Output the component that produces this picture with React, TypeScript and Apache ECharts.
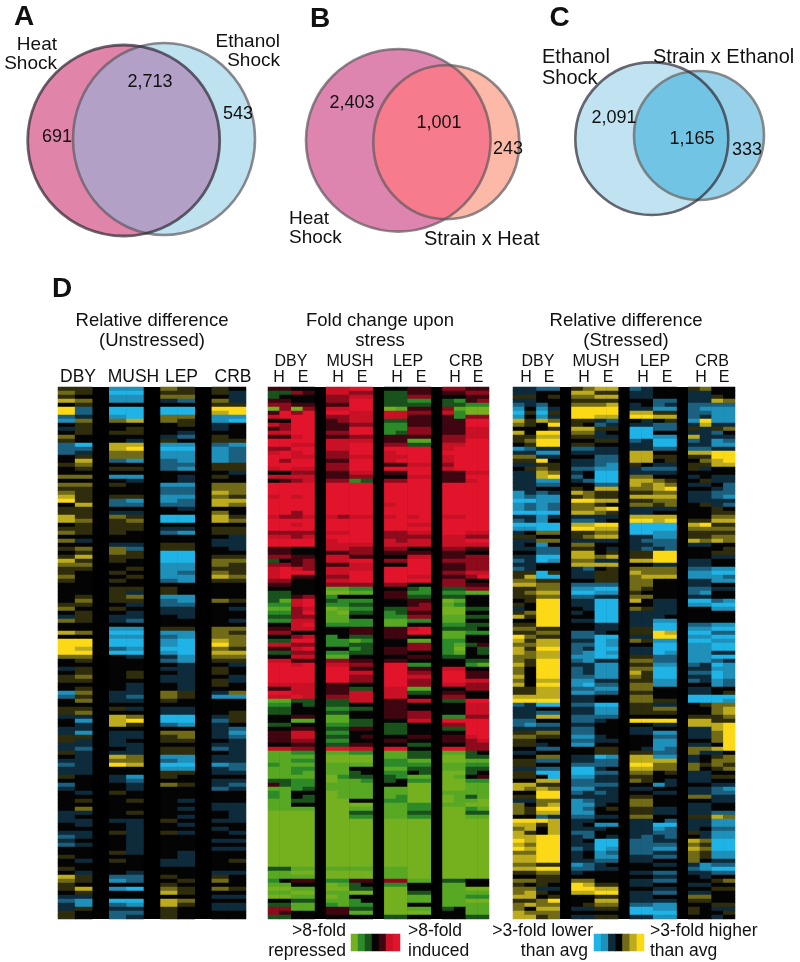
import React, { useEffect, useRef } from "react";
import * as echarts from "echarts";

const FONT = "'Liberation Sans', Arial, sans-serif";

// Heatmap rows, one digit per cell: 0 = strongest low, 4 = black, 8 = strongest high
const unstressedColumns = ["DBY H", "DBY E", "gap1", "MUSH H", "MUSH E", "gap2", "LEP H", "LEP E", "gap3", "CRB H", "CRB E"];
const unstressedRows = [
"55 11 65 54","65 00 55 53","54 11 66 43","76 11 32 63","45 44 44 55","82 00 00 88","82 00 00 78","23 10 66 11","16 67 65 10","45 44 45 34",
"35 45 44 34","45 55 43 44","64 44 32 54","54 43 54 55","20 77 11 21","22 78 00 12","23 66 11 12","45 66 11 12","47 21 21 12","56 44 22 55",
"45 55 21 55","44 44 44 43","66 11 43 54","44 43 43 44","66 54 11 66","55 44 22 66","65 44 22 76","75 55 11 65","85 21 12 77","47 22 22 76",
"55 44 43 44","55 33 44 64","75 65 00 75","76 56 00 76","45 55 44 44","55 55 33 55","65 54 21 55","44 44 44 43","63 44 44 33","44 33 55 33",
"56 62 55 43","45 65 00 44","57 55 00 55","75 54 00 66","66 44 11 65","55 45 11 55","54 54 12 65","64 45 11 76","54 54 21 55","44 44 44 44",
"44 55 54 44","44 53 54 44","45 56 11 44","46 55 21 65","55 43 22 44","64 54 33 43","45 43 33 44","35 33 43 44","65 32 44 43","44 44 44 44",
"44 11 55 66","76 00 11 65","44 11 21 66","88 00 10 76","88 00 10 86","87 21 00 65","88 00 10 77","66 43 31 66","45 44 21 55","44 44 43 43",
"35 44 33 54","45 45 43 54","56 45 33 43","55 44 33 53","44 43 43 54","45 43 43 44","16 33 65 36","25 32 65 11","46 33 54 44","44 44 44 44",
"55 53 33 44","56 44 33 45","33 76 00 35","41 78 00 25","43 75 21 34","33 44 44 32","31 33 66 31","55 33 56 32","53 34 55 43","33 33 44 33",
"32 43 55 23","53 33 55 43","43 76 11 33","33 66 21 33","23 87 00 12","33 44 11 32","33 44 55 33","54 31 54 44","44 32 44 33","24 43 65 32",
"34 43 44 23","43 54 44 44","44 44 44 44","45 45 43 44","44 44 44 33","46 44 43 33","33 45 44 43","34 44 43 43","33 33 54 33","43 43 43 44",
"44 43 44 34","33 53 53 43","23 43 44 44","34 43 44 33","23 43 44 44","44 43 44 33","44 53 43 44","54 44 43 44","43 54 33 45","44 44 33 44",
"54 44 44 44","43 43 44 33","75 22 54 54","65 12 45 64","54 44 54 44","57 10 65 65","45 44 75 44","33 44 44 33","21 00 76 44","31 21 75 33",
"35 33 54 33","54 22 54 44","54 23 54 44",
];

const sixteenColumns = ["D1", "D2", "D3", "D4", "gap1", "M1", "M2", "M3", "M4", "gap2", "L1", "L2", "L3", "L4", "gap3", "C1", "C2", "C3", "C4"];
const foldChangeRows = [
"5544 7788 4455 6655","3365 7766 3355 5566","3444 6677 3366 4455","5544 6688 3322 3256","6655 5588 3333 3322","0606 7788 0155 6100","5868 8877 7766 7200","7888 6677 7755 5266","4488 5677 3355 5588","7688 5566 2255 5588",
"5688 5588 2266 5577","7788 6688 2366 5577","5578 5566 5555 6677","8888 7777 5511 6688","8877 7788 6633 7788","6688 7788 8888 7888","7878 6688 7888 8888","8877 6677 7788 7888","8688 5588 7888 7888","8888 6688 5577 6888",
"7877 6688 8888 7888","4466 5577 5588 5577","7777 5566 4477 5588","4567 6623 6688 5578","8888 8888 8888 8888","8888 8888 8888 8888","8888 8888 8888 8888","7878 8888 8888 8888","8888 8888 8888 8888","8888 8888 7888 8888",
"8888 8888 8888 8888","8868 8888 8888 8888","7667 7677 7878 7788","8888 8888 8888 8888","8878 8888 8877 8888","8888 8888 8888 8888","6666 7788 6677 8877","7767 8888 6666 7766","8888 7888 7677 7788","8888 7777 7777 7777",
"5544 7766 6644 6655","5544 5566 5555 5544","6655 7755 4477 5566","3456 7788 6688 6666","6656 5577 4488 5566","7876 7777 8888 5566","7888 7788 8888 6677","7855 6688 8877 5568","6644 7788 8888 6644","5544 6666 6644 6655",
"4444 1122 4432 3366","3344 0011 5522 2211","3356 2444 5533 3344","3178 3222 4455 0144","2278 2233 4456 1244","1167 0122 3366 0033","2268 1033 2355 0044","3366 1144 2266 1133","2277 1122 1122 1144","4478 2222 1144 2233",
"5577 4455 5578 3334","6644 4455 5588 1122","4467 2433 5544 1144","3388 2212 4411 2244","7766 2233 4466 2135","5578 4423 5566 2043","3366 2233 5544 2143","4477 1144 4455 3344","7755 6655 5544 4433","8878 7766 8822 4421",
"8888 8855 8855 7744","8888 8877 8866 8855","8888 8866 8877 8855","8888 8866 8866 8877","7777 5544 8866 7766","5577 5533 7711 4466","8877 5577 7733 5544","7787 6677 7744 6644","1133 3377 5577 3388","2243 3344 5544 4477",
"3344 2233 5544 4477","3344 3344 5566 4477","4455 1144 5566 2266","4411 1133 4477 8888","3344 2233 3344 6688","4455 3355 3344 3388","5577 2244 3344 4488","5577 3345 4455 5578","5566 2244 5544 5567","4455 3355 4433 4466",
"7766 8877 8844 8866","1122 1122 1133 1134","1111 0000 1133 0033","1122 0000 2211 0011","2111 1111 2222 1122","1122 1144 1133 1133","1121 1134 2243 0034","1111 0233 3211 0145","3322 0112 3422 0022","5322 1111 4400 0011",
"1123 1111 1100 0011","2144 0111 1100 1111","2143 0111 1200 0131","1133 0044 2200 0110","1144 0000 1122 1100","1111 0011 1122 0021","0000 0033 1133 0033","0000 0022 1122 0011","0000 0000 0000 0000","0000 0000 0000 0000",
"0000 0000 0000 0000","0000 0000 0000 0000","0000 0000 0000 0000","0000 0000 0000 0000","0000 0000 0000 0000","0000 0000 0000 0000","0000 0000 0000 0000","0000 0000 0000 0000","0000 0000 0000 0000","0000 0000 0000 0000",
"3311 1111 1100 0000","1100 0000 1100 0000","1111 0000 1100 0000","2455 2255 6611 3344","1144 0134 2244 1144","0011 0033 0044 1100","1100 1100 0033 1111","0011 0144 0011 1122","4433 1124 0011 1100","3311 2122 0044 1111",
"6611 5533 0011 3411","6544 5511 0000 4411","3344 4444 3344 4433",
];

const stressedRows = [
"3322 5677 2344 5644","3344 7755 3344 3344","5545 6677 3344 3354","3344 5555 4422 3376","2324 6667 3423 2222","1413 8888 3311 2111","0505 8888 7755 2211","1413 8877 8877 2311","7576 5532 4345 1811","6548 5423 3322 3733",
"4445 7755 0022 5356","7488 6634 0044 3324","5577 5533 0011 7333","5688 4455 2300 2312","4588 5544 3300 3311","1233 2233 3322 2233","3311 3333 7744 7788","6633 4422 7755 5588","5584 3322 7745 4678","3355 3321 5433 5577",
"4565 2211 3222 5344","3376 3400 3333 4444","3378 2400 6644 3433","3311 3200 7765 4533","3322 4422 7676 3342","3344 5477 6678 4432","1323 7655 5566 3322","1211 5655 7777 3321","0011 8877 5566 3333","1212 6654 6656 4532",
"1212 6678 3333 4454","0000 7765 3344 4455","3313 3333 7777 4466","2314 2234 8878 5577","0000 7788 0000 7855","1100 8877 0000 6666","3466 5566 0011 5555","5544 5677 3311 5566","3366 3333 3222 7676","3414 6644 3322 3344",
"3322 5543 3232 4445","4422 7745 5588 4455","3300 7767 5588 4433","2301 6633 7788 3344","3344 7777 4433 3344","2344 3245 6666 2211","5505 3355 7666 1100","5700 3355 6777 1112","6655 4455 6644 3311","7766 2222 6644 3344",
"5566 1100 6544 2233","5677 0011 5444 2144","5566 2233 6644 3344","4588 3300 7433 0021","5488 3300 4433 1100","3488 4300 6533 4411","5688 3400 3333 4444","7588 4400 3334 4444","4488 3300 3311 4444","5588 4433 3300 2211",
"6655 4433 5500 1100","5566 2234 5587 0022","8655 2200 3388 1100","7577 3301 6511 0011","6677 2201 4400 1100","7588 2300 3300 1100","7677 2101 3301 1133","6677 1100 5522 1100","6588 2133 6622 1123","7588 3311 5511 2301",
"6488 2311 6600 3311","6488 2311 7500 2201","7488 2211 6500 3301","6477 1133 5511 2312","7488 1022 6611 4412","5577 2211 6644 3344","5577 1122 5544 3345","7777 3344 6644 0000","8888 3344 6655 0001","2300 2200 5533 4566",
"3344 3311 5566 4467","3322 3311 5555 4467","3377 2222 4444 5556","2244 2234 8888 7755","2122 3344 4433 7778","3333 2244 3344 3378","5566 2244 3311 3368","6655 1134 4422 3368","5544 2233 4411 4468","5534 1144 4411 3348",
"4422 4455 4312 6678","3344 4455 5522 6334","4466 3301 7711 3456","5522 3322 7777 3466","5544 2222 8866 6565","3322 0034 7766 6456","5500 0022 6645 3344","5540 1133 5544 3355","4477 2233 6543 3344","7755 2222 4413 4433",
"7676 1133 3344 3321","4488 2323 4433 3322","5588 3333 5544 6633","3366 1233 6644 4433","6467 1134 6644 3344","6588 1245 5533 3344","6577 1144 5533 3322","4423 2233 6644 5576","8887 3344 3342 3311","7757 3411 3300 3311",
"6747 3334 3312 3422","7547 2244 3322 5311","7788 3243 3232 4311","8788 3400 2233 7600","7688 3300 2222 6500","8788 2301 2211 7600","6688 3412 2233 6511","7788 3411 3322 6511","7788 3322 3344 6433","6655 1234 4433 3122",
"7788 2233 4444 2100","5566 3444 3322 3322","4455 4444 4433 4344","6655 6644 3322 4456","5454 8755 3344 3344","6633 8877 4433 4455","6754 7788 3322 3344","7745 4455 3344 6644","5568 4477 3333 5544","6766 4566 2211 4455",
"6477 3355 0011 5433","7666 4444 0000 5445","7756 3355 3311 4434",
];

const foldColours = ["#74b01f", "#58a824", "#2c8a28", "#1a521c", "#050505", "#3f0610", "#8c0b1c", "#c91126", "#e2142c"];
const diffColours = ["#1fb3e6", "#1f90ba", "#1b607f", "#0e2b3b", "#040404", "#2f2d0c", "#716b17", "#bcab1c", "#fbd916"];
const foldLegendValues = [0, 2, 3, 4, 5, 7, 8];
const diffLegendValues = [0, 1, 3, 4, 6, 7, 8];

// Venn diagram counts
const vennACounts = ["2,713", "691", "543"];
const vennBCounts = ["2,403", "1,001", "243"];
const vennCCounts = ["2,091", "1,165", "333"];

const groupLabels = ["DBY", "MUSH", "LEP", "CRB"];
const conditionLabels = ["H", "E"];

type Txt = [string, number, number, string?, number?, string?];
type Ell = [number, number, number, number];

function txt([s, x, y, align = "center", size = 18, weight = "normal"]: Txt) {
  return {
    type: "text", x, y, silent: true,
    style: { text: s, fill: "#111", font: `${weight} ${size}px ${FONT}`, textAlign: align, textVerticalAlign: "middle" },
  };
}

function ell([cx, cy, rx, ry]: Ell, fill: string, stroke: string, lw = 0) {
  return {
    type: "ellipse", silent: true, shape: { cx, cy, rx, ry },
    style: { fill, stroke, lineWidth: lw },
  };
}

// Overlap of two ellipses as a polygon: the outline points of each that lie inside the other.
function lens(a: Ell, b: Ell, fill: string) {
  const inside = (p: number[], e: Ell) => ((p[0] - e[0]) / e[2]) ** 2 + ((p[1] - e[1]) / e[3]) ** 2 <= 1;
  const pts: number[][] = [];
  for (const [e, other] of [[a, b], [b, a]] as [Ell, Ell][]) {
    for (let i = 0; i < 720; i++) {
      const t = (i * Math.PI) / 360;
      const p = [e[0] + e[2] * Math.cos(t), e[1] + e[3] * Math.sin(t)];
      if (inside(p, other)) pts.push(p);
    }
  }
  const mx = pts.reduce((s, p) => s + p[0], 0) / pts.length;
  const my = pts.reduce((s, p) => s + p[1], 0) / pts.length;
  pts.sort((p, q) => Math.atan2(p[1] - my, p[0] - mx) - Math.atan2(q[1] - my, q[0] - mx));
  return { type: "polygon", silent: true, shape: { points: pts }, style: { fill } };
}

function cells(rows: string[]) {
  const out: number[][] = [];
  rows.forEach((row, y) => {
    const groups = row.split(" ");
    let x = 0;
    groups.forEach((g, gi) => {
      for (const ch of g) out.push([x++, y, Number(ch)]);
      if (gi < groups.length - 1) x++;
    });
  });
  return out;
}

function buildOption() {
  const rowCats = unstressedRows.map((_, i) => "r" + i);
  const panels = [
    { left: 58, width: 188, cols: unstressedColumns, rows: unstressedRows },
    { left: 268, width: 221, cols: sixteenColumns, rows: foldChangeRows },
    { left: 513, width: 222, cols: sixteenColumns, rows: stressedRows },
  ];
  const legends = [
    { left: 351, width: 49, values: foldLegendValues },
    { left: 594, width: 50, values: diffLegendValues },
  ];
  const grid: any[] = panels.map((p) => ({ left: p.left, width: p.width, top: 387, height: 532, show: true, backgroundColor: "#000", borderWidth: 0, containLabel: false }));
  const xAxis: any[] = panels.map((p, i) => ({ type: "category", gridIndex: i, data: p.cols, show: false }));
  const yAxis: any[] = panels.map((_, i) => ({ type: "category", gridIndex: i, data: rowCats, inverse: true, show: false }));
  const series: any[] = panels.map((p, i) => ({
    type: "heatmap", xAxisIndex: i, yAxisIndex: i, data: cells(p.rows), silent: true, progressive: 0,
    itemStyle: { borderWidth: 0 }, emphasis: { disabled: true },
  }));
  legends.forEach((l, k) => {
    const i = 3 + k;
    grid.push({ left: l.left, width: l.width, top: 934, height: 17, show: false, containLabel: false });
    xAxis.push({ type: "category", gridIndex: i, data: l.values.map(String), show: false });
    yAxis.push({ type: "category", gridIndex: i, data: ["only"], show: false });
    series.push({
      type: "heatmap", xAxisIndex: i, yAxisIndex: i, data: l.values.map((v, x) => [x, 0, v]), silent: true,
      itemStyle: { borderWidth: 0 }, emphasis: { disabled: true },
    });
  });
  const visualMap = [
    { seriesIndex: [1, 3], colors: foldColours },
    { seriesIndex: [0, 2, 4], colors: diffColours },
  ].map((v) => ({ type: "continuous", show: false, min: 0, max: 8, dimension: 2, seriesIndex: v.seriesIndex, inRange: { color: v.colors } }));

  const dark = "rgba(50,45,55,0.72)";
  const grey = "rgba(90,85,90,0.68)";

  const aHeat: Ell = [123.7, 140.5, 96, 95.5];
  const aEth: Ell = [164, 139, 91, 96];
  const bHeat: Ell = [398.3, 140.3, 92.3, 91.3];
  const bStrain: Ell = [446.3, 142.2, 73, 77];
  const cEth: Ell = [651.8, 138.7, 76.5, 76.3];
  const cStrain: Ell = [699, 135.5, 65, 64.5];

  const graphicElements: any[] = [
    ell(aHeat, "#e184aa", "none"),
    ell(aEth, "#bfe2f0", "none"),
    lens(aHeat, aEth, "#b3a0c7"),
    ell(aEth, "none", grey, 2.6),
    ell(aHeat, "none", dark, 2.8),
    ell(bHeat, "#dd85af", "none"),
    ell(bStrain, "#fdb9a8", "none"),
    lens(bHeat, bStrain, "#f67b8c"),
    ell(bHeat, "none", grey, 2.6),
    ell(bStrain, "none", grey, 2.6),
    ell(cEth, "#c1e3f1", "none"),
    ell(cStrain, "#98d2ea", "none"),
    lens(cEth, cStrain, "#72c4e4"),
    ell(cStrain, "none", "rgba(110,110,110,0.8)", 2.6),
    ell(cEth, "none", dark, 2.6),
  ];

  const texts: Txt[] = [
    ["A", 24, 15, "center", 28, "bold"],
    ["B", 320, 17, "center", 28, "bold"],
    ["C", 559.5, 16, "center", 28, "bold"],
    ["D", 62, 287, "center", 28, "bold"],
    ["Heat", 57, 43, "right", 19],
    ["Shock", 57, 62, "right", 19],
    ["Ethanol", 280, 40, "right", 19],
    ["Shock", 280, 59, "right", 19],
    [vennACounts[0], 150, 81, "center", 18],
    [vennACounts[1], 57, 136, "center", 18],
    [vennACounts[2], 238, 113, "center", 18],
    [vennBCounts[0], 352, 102, "center", 18],
    [vennBCounts[1], 439, 122, "center", 18],
    [vennBCounts[2], 508, 148, "center", 18],
    ["Heat", 289, 217, "left", 19],
    ["Shock", 289, 236, "left", 19],
    ["Strain x Heat", 424, 238, "left", 20],
    ["Ethanol", 542, 56, "left", 20],
    ["Shock", 542, 77, "left", 20],
    ["Strain x Ethanol", 653, 56, "left", 20],
    [vennCCounts[0], 614, 117, "center", 18],
    [vennCCounts[1], 692, 138, "center", 18],
    [vennCCounts[2], 747, 149, "center", 18],
    ["Relative difference", 152, 319, "center", 18.5],
    ["(Unstressed)", 152, 339, "center", 18.5],
    ["Fold change upon", 380, 319, "center", 18.5],
    ["stress", 380, 339, "center", 18.5],
    ["Relative difference", 626, 319, "center", 18.5],
    ["(Stressed)", 626, 339, "center", 18.5],
    [">8-fold", 346, 930, "right", 17.5],
    ["repressed", 346, 949.5, "right", 17.5],
    [">8-fold", 408, 930, "left", 17.5],
    ["induced", 408, 949.5, "left", 17.5],
    [">3-fold lower", 593, 930, "right", 17.5],
    ["than avg", 588, 949.5, "right", 17.5],
    [">3-fold higher", 650, 930, "left", 17.5],
    ["than avg", 650, 949.5, "left", 17.5],
  ];
  const leftCentres = [78, 133.5, 181.5, 233];
  groupLabels.forEach((g, i) => texts.push([g, leftCentres[i], 376, "center", 17.5]));
  const midCentres = [291, 350, 408, 466];
  const rightCentres = [538, 596, 655, 712];
  groupLabels.forEach((g, i) => {
    texts.push([g, midCentres[i], 360, "center", 16]);
    texts.push([g, rightCentres[i], 360, "center", 16]);
  });
  const midCond = [279, 303, 338, 362, 397, 421, 455, 478];
  const rightCond = [526, 549, 584, 608, 643, 667, 701, 724];
  midCond.forEach((x, i) => texts.push([conditionLabels[i % 2], x, 376.5, "center", 16]));
  rightCond.forEach((x, i) => texts.push([conditionLabels[i % 2], x, 376.5, "center", 16]));
  texts.forEach((t) => graphicElements.push(txt(t)));

  return { animation: false, backgroundColor: "#fff", grid, xAxis, yAxis, visualMap, series, graphic: { elements: graphicElements } };
}

export default function App() {
  const ref = useRef<HTMLDivElement>(null);
  useEffect(() => {
    const chart = echarts.init(ref.current!, undefined, { renderer: "svg" });
    chart.setOption(buildOption() as any);
    return () => chart.dispose();
  }, []);
  return <div ref={ref} style={{ position: "absolute", left: 0, top: 0, width: 800, height: 962, filter: "blur(0.5px)" }} />;
}
